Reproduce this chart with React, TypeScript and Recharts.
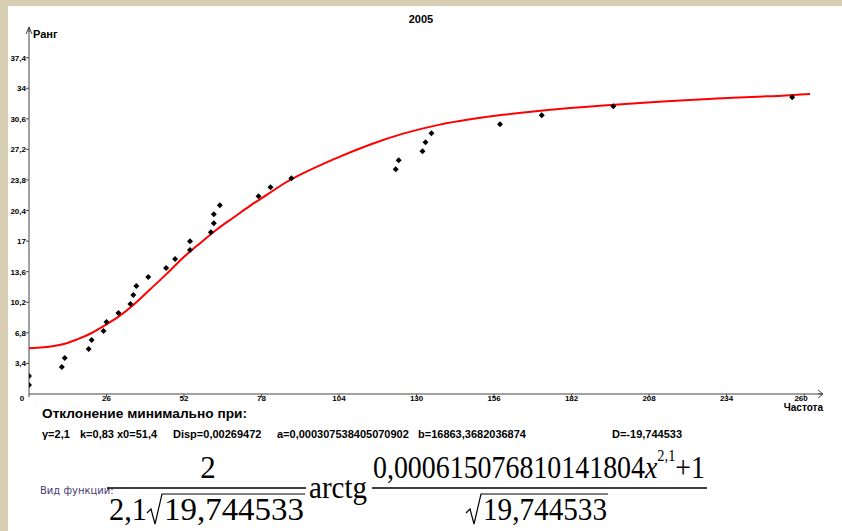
import { ComposedChart, Line, Scatter, XAxis, YAxis } from "recharts";

// observed points: frequency (x) vs rank (y)
const freq = [0, 0, 11, 12, 20, 21, 25, 26, 30, 34, 35, 36, 40, 46, 49, 54, 54, 61, 62, 62, 64, 77, 81, 88, 123, 124, 132, 133, 135, 158, 172, 196, 256];
const rank = [1, 2, 3, 4, 5, 6, 7, 8, 9, 10, 11, 12, 13, 14, 15, 16, 17, 18, 19, 20, 21, 22, 23, 24, 25, 26, 27, 28, 29, 30, 31, 32, 33];

// fitted curve
const fitX = [0, 5, 11, 16, 20.5, 26, 30, 35, 40.5, 46, 51.5, 57.5, 63, 68.5, 74, 80, 85, 91, 102.5, 114.5, 125.5, 137, 148, 159, 170, 181.5, 191.5, 202.5, 214, 225, 236, 247.5, 258.5, 262];
const fitY = [5.1, 5.2, 5.5, 6.05, 6.7, 7.75, 8.6, 9.9, 11.6, 13.3, 15.1, 16.8, 18.3, 19.6, 20.9, 22.2, 23.3, 24.4, 26.15, 27.75, 28.95, 29.9, 30.55, 31.05, 31.45, 31.8, 32.05, 32.3, 32.55, 32.75, 32.95, 33.1, 33.3, 33.35];

const xTicks = [0, 26, 52, 78, 104, 130, 156, 182, 208, 234, 260];
const yTicks = [3.4, 6.8, 10.2, 13.6, 17, 20.4, 23.8, 27.2, 30.6, 34, 37.4];

const title = "2005";
const yName = "Ранг";
const xName = "Частота";
const devTitle = "Отклонение минимально при:";
const params = [
  { label: "γ=2,1", x: 42 },
  { label: "k=0,83", x: 80 },
  { label: "x0=51,4", x: 117 },
  { label: "Disp=0,00269472", x: 173 },
  { label: "a=0,000307538405070902", x: 277 },
  { label: "b=16863,3682036874", x: 418 },
  { label: "D=-19,744533", x: 612 },
];

const points = freq.map((x, i) => ({ x, y: rank[i] }));
const curve = fitX.map((x, i) => ({ x, y: fitY[i] }));

const tickFont = "'Liberation Sans', Arial, sans-serif";
const comma = (v: number) => String(v).replace(".", ",");

const XTick = ({ x, y, payload }: any) => {
  const v = payload.value;
  const dx = v === 0 ? -7 : v === 260 ? -3 : 0;
  return (
    <text x={x + dx} y={y + 4} textAnchor="middle" fontSize={8} fontWeight="bold" fontFamily={tickFont} fill="#000">
      {comma(v)}
    </text>
  );
};

const YTick = ({ x, y, payload }: any) => (
  <text x={x} y={y + 3} textAnchor="end" fontSize={8} fontWeight="bold" fontFamily={tickFont} fill="#000">
    {comma(payload.value)}
  </text>
);

const Diamond = ({ cx, cy }: any) => (
  <path d={`M${cx},${cy - 3}L${cx + 3},${cy}L${cx},${cy + 3}L${cx - 3},${cy}Z`} fill="#000" />
);

const serif = "'Liberation Serif', 'Times New Roman', serif";

export default function App() {
  return (
    <div style={{ position: "absolute", left: 0, top: 0, width: 842, height: 531, background: "#fff", overflow: "hidden" }}>
      <div style={{ position: "absolute", left: 0, top: 0, width: 842, height: 6, background: "#d8ceb4" }} />
      <div style={{ position: "absolute", left: 0, top: 0, width: 8, height: 531, background: "#d8ceb4" }} />
      <ComposedChart width={842} height={531} margin={{ top: 28, right: 20, bottom: 117, left: 0 }}>
        <XAxis
          dataKey="x"
          type="number"
          domain={[0, 266]}
          ticks={xTicks}
          allowDataOverflow
          height={20}
          tickSize={3}
          tickMargin={0}
          tick={<XTick />}
          axisLine={{ stroke: "#444" }}
          tickLine={{ stroke: "#444" }}
        />
        <YAxis
          dataKey="y"
          type="number"
          domain={[0, 40.7]}
          ticks={yTicks}
          allowDataOverflow
          width={29}
          tickSize={3}
          tickMargin={0}
          tick={<YTick />}
          axisLine={{ stroke: "#444" }}
          tickLine={{ stroke: "#444" }}
        />
        <Line
          data={curve}
          dataKey="y"
          type="natural"
          stroke="#ff0000"
          strokeWidth={2}
          dot={false}
          isAnimationActive={false}
        />
        <Scatter data={points} dataKey="y" fill="#000" shape={<Diamond />} isAnimationActive={false} />
      </ComposedChart>
      <svg width={842} height={531} style={{ position: "absolute", left: 0, top: 0, pointerEvents: "none" }}>
        {/* axis arrows */}
        <path d="M26,34 L29,27 L32,34" fill="none" stroke="#444" />
        <line x1={29} y1={27} x2={29} y2={32} stroke="#444" />
        <line x1={818} y1={394} x2={823} y2={394} stroke="#444" />
        <path d="M818,390 L823,394 L818,398" fill="none" stroke="#444" />

        <text x={421} y={23} textAnchor="middle" fontSize={11} fontWeight="bold" fontFamily={tickFont}>{title}</text>
        <text x={33} y={38} fontSize={11} fontWeight="bold" fontFamily={tickFont}>{yName}</text>
        <text x={823} y={411} textAnchor="end" fontSize={10} fontWeight="bold" fontFamily={tickFont}>{xName}</text>

        <text x={42} y={418} fontSize={12} fontWeight="bold" fontFamily={tickFont} textLength={205} lengthAdjust="spacingAndGlyphs">{devTitle}</text>
        {params.map((p) => (
          <text key={p.label} x={p.x} y={438} fontSize={11} fontWeight="bold" fontFamily={tickFont}>{p.label}</text>
        ))}

        {/* function form */}
        <text x={40} y={494} fontSize={10} fontFamily="'DejaVu Sans', Tahoma, sans-serif" fill="#4a3a78">Вид функции:</text>
        <text x={208} y={478} textAnchor="middle" fontSize={31} fontFamily={serif}>2</text>
        <line x1={107} y1={488} x2={306} y2={488} stroke="#000" strokeWidth={1.5} />
        <text x={109} y={520} fontSize={31} fontFamily={serif} textLength={38} lengthAdjust="spacingAndGlyphs">2,1</text>
        <path d="M147,513 L151,509 L155,524 L162,494 L305,494" fill="none" stroke="#000" strokeWidth={1.2} />
        <text x={164} y={520} fontSize={31} fontFamily={serif} textLength={140} lengthAdjust="spacingAndGlyphs">19,744533</text>
        <text x={309} y={498} fontSize={31} fontFamily={serif} textLength={58} lengthAdjust="spacingAndGlyphs">arctg</text>

        <text transform="translate(373,478) scale(0.9,1)" fontSize={31} fontFamily={serif}>
          <tspan>0,000615076810141804</tspan>
          <tspan fontStyle="italic">x</tspan>
          <tspan fontSize={16} dy={-17}>2,1</tspan>
          <tspan dy={17}>+1</tspan>
        </text>
        <line x1={372} y1={488} x2={707} y2={488} stroke="#000" strokeWidth={1.5} />
        <path d="M466,513 L470,509 L474,524 L481,494 L608,494" fill="none" stroke="#000" strokeWidth={1.2} />
        <text x={483} y={520} fontSize={31} fontFamily={serif} textLength={124} lengthAdjust="spacingAndGlyphs">19,744533</text>
      </svg>
    </div>
  );
}
